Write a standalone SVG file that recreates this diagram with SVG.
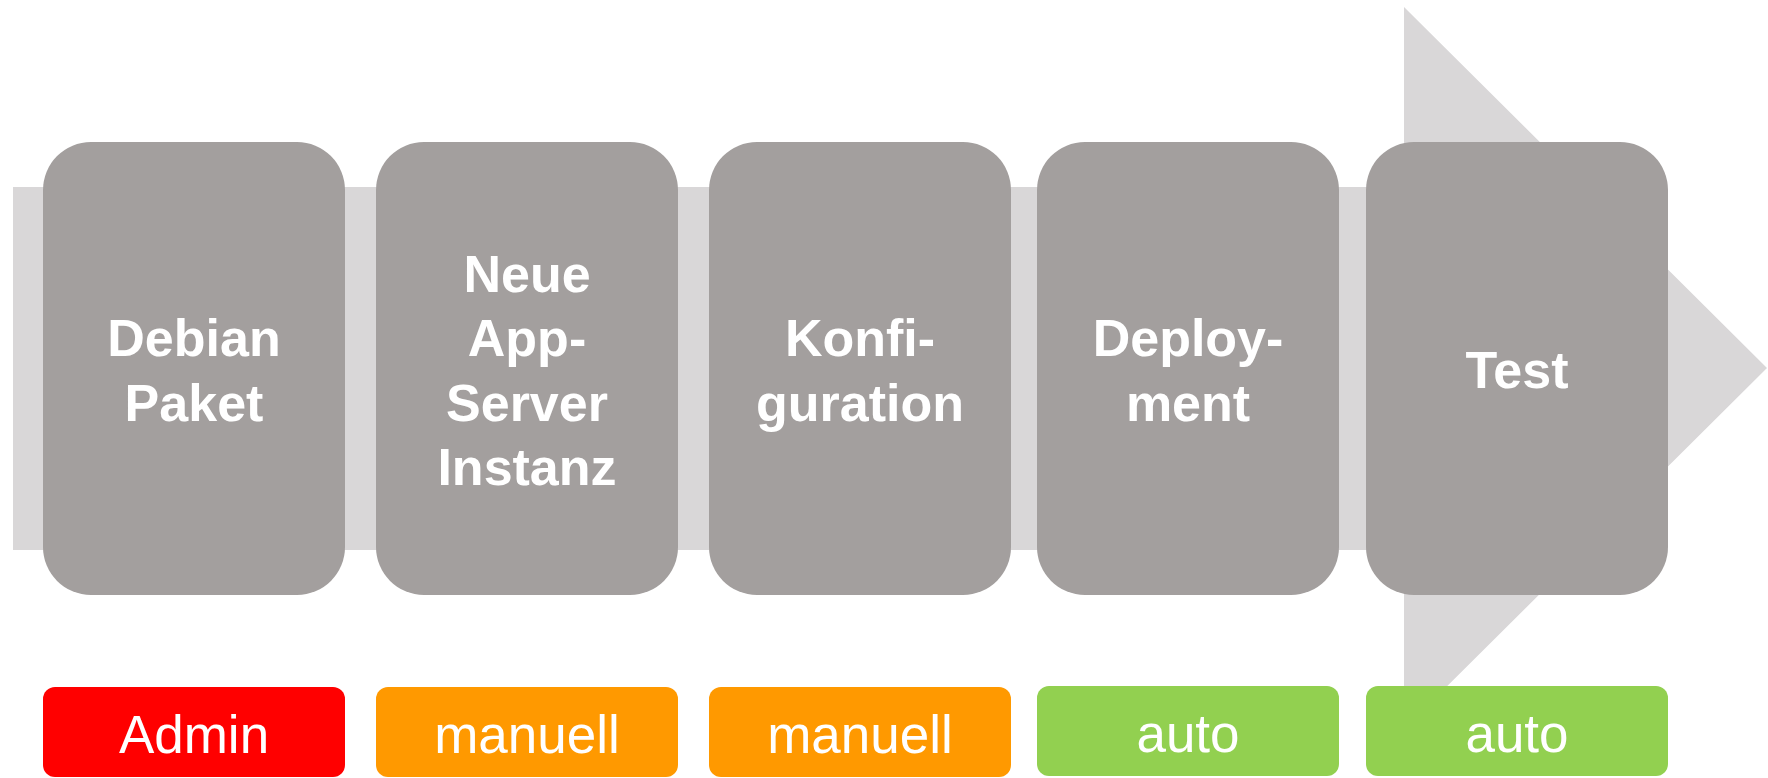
<svg xmlns="http://www.w3.org/2000/svg" width="1768" height="778" viewBox="0 0 1768 778">
<style>
.node{fill:#A39F9E}
.band{fill:#D9D7D8}
.t{font-family:"Liberation Sans",Arial,sans-serif;font-weight:bold;font-size:52px;fill:#fff;text-anchor:middle}
.l{font-family:"Liberation Sans",Arial,sans-serif;font-size:53px;fill:#fff;text-anchor:middle}
.red{fill:#FF0000}.orange{fill:#FF9900}.green{fill:#92D050}
</style>
<g id="connectors">
<polygon class="band" points="13,187 1404,187 1404,7 1767,368 1404,729 1404,550 13,550"/>
</g>
<g id="n1"><rect class="node" x="43" y="142" width="302" height="453" rx="48"/><text class="t" x="194" y="356">Debian</text><text class="t" x="194" y="421">Paket</text></g>
<g id="n2"><rect class="node" x="376" y="142" width="302" height="453" rx="48"/><text class="t" x="527" y="292">Neue</text><text class="t" x="527" y="356">App-</text><text class="t" x="527" y="421">Server</text><text class="t" x="527" y="485">Instanz</text></g>
<g id="n3"><rect class="node" x="709" y="142" width="302" height="453" rx="48"/><text class="t" x="860" y="356">Konfi-</text><text class="t" x="860" y="421">guration</text></g>
<g id="n4"><rect class="node" x="1037" y="142" width="302" height="453" rx="48"/><text class="t" x="1188" y="356">Deploy-</text><text class="t" x="1188" y="421">ment</text></g>
<g id="n5"><rect class="node" x="1366" y="142" width="302" height="453" rx="48"/><text class="t" x="1517" y="388">Test</text></g>
<g id="b1"><rect class="red" x="43" y="687" width="302" height="90" rx="12"/><text class="l" x="194" y="753">Admin</text></g>
<g id="b2"><rect class="orange" x="376" y="687" width="302" height="90" rx="12"/><text class="l" x="527" y="753">manuell</text></g>
<g id="b3"><rect class="orange" x="709" y="687" width="302" height="90" rx="12"/><text class="l" x="860" y="753">manuell</text></g>
<g id="b4"><rect class="green" x="1037" y="686" width="302" height="90" rx="12"/><text class="l" x="1188" y="752">auto</text></g>
<g id="b5"><rect class="green" x="1366" y="686" width="302" height="90" rx="12"/><text class="l" x="1517" y="752">auto</text></g>
</svg>
